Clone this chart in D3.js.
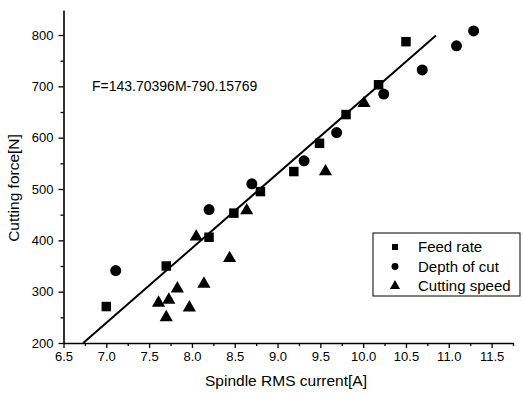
<!DOCTYPE html>
<html>
<head>
<meta charset="utf-8">
<script src="https://cdn.jsdelivr.net/npm/d3@7"></script>
<style>
  body { margin: 0; background: #fff; }
  svg text { font-family: "Liberation Sans", Arial, sans-serif; fill: #000; }
</style>
</head>
<body>
<div id="chart"></div>
<script>
// values
const feedX = [7.00, 7.70, 8.20, 8.49, 8.80, 9.19, 9.49, 9.80, 10.18, 10.50];
const feedY = [271, 350, 406, 453, 495, 534, 589, 645, 703, 787];

const depthX = [7.11, 8.20, 8.70, 9.31, 9.69, 10.24, 10.69, 11.09, 11.29];
const depthY = [341, 460, 510, 555, 610, 685, 732, 779, 808];

const speedX = [7.61, 7.73, 7.70, 7.83, 7.97, 8.14, 8.05, 8.44, 8.64, 9.56, 10.01];
const speedY = [278, 284, 250, 306, 269, 315, 407, 365, 458, 534, 667];

// fitted line as drawn (end points)
const fitX = [6.73, 10.85];
const fitY = [200, 799];

const xTicks = [6.5, 7.0, 7.5, 8.0, 8.5, 9.0, 9.5, 10.0, 10.5, 11.0, 11.5];
const xMinor = [6.75, 7.25, 7.75, 8.25, 8.75, 9.25, 9.75, 10.25, 10.75, 11.25, 11.75];
const yTicks = [200, 300, 400, 500, 600, 700, 800];
const yMinor = [250, 350, 450, 550, 650, 750];

const seriesNames = ['Feed rate', 'Depth of cut', 'Cutting speed'];
const equation = 'F=143.70396M-790.15769';

const W = 523, H = 393;
const svg = d3.select('#chart').append('svg')
  .attr('width', W).attr('height', H);

const x = d3.scaleLinear().domain([6.5, 11.75]).range([63.5, 513]);
const y = d3.scaleLinear().domain([200, 848.7]).range([343, 10]);

// minor ticks first
svg.append('g')
  .attr('transform', `translate(0,${y(200)})`)
  .call(d3.axisBottom(x).tickValues(xMinor).tickSize(3).tickFormat(''))
  .call(g => g.select('.domain').remove());
svg.append('g')
  .attr('transform', `translate(${x(6.5)},0)`)
  .call(d3.axisLeft(y).tickValues(yMinor).tickSize(3).tickFormat(''))
  .call(g => g.select('.domain').remove());

const xAxis = svg.append('g')
  .attr('transform', `translate(0,${y(200)})`)
  .call(d3.axisBottom(x).tickValues(xTicks).tickSize(5).tickSizeOuter(0).tickPadding(4)
    .tickFormat(d3.format('.1f')));
xAxis.selectAll('text').attr('font-size', 13);

const yAxis = svg.append('g')
  .attr('transform', `translate(${x(6.5)},0)`)
  .call(d3.axisLeft(y).tickValues(yTicks).tickSize(5).tickSizeOuter(0).tickPadding(5));
yAxis.selectAll('text').attr('font-size', 13);

svg.selectAll('.domain').attr('stroke-width', 1.6);
svg.selectAll('.tick line').attr('stroke-width', 1.3);

// axis titles
svg.append('text')
  .attr('x', 286).attr('y', 386)
  .attr('text-anchor', 'middle')
  .attr('font-size', 15.5)
  .text('Spindle RMS current[A]');

svg.append('text')
  .attr('transform', 'translate(19,188) rotate(-90)')
  .attr('text-anchor', 'middle')
  .attr('font-size', 15.5)
  .text('Cutting force[N]');

// regression line
svg.append('line')
  .attr('x1', x(fitX[0])).attr('y1', y(fitY[0]))
  .attr('x2', x(fitX[1])).attr('y2', y(fitY[1]))
  .attr('stroke', '#000').attr('stroke-width', 2);

svg.append('text')
  .attr('x', 92).attr('y', 91)
  .attr('font-size', 14)
  .text(equation);

// markers
const shapes = [d3.symbolSquare, d3.symbolCircle, d3.symbolTriangle];
const sizes = [90, 95, 75];
const series = [
  d3.zip(feedX, feedY),
  d3.zip(depthX, depthY),
  d3.zip(speedX, speedY)
];

series.forEach((pts, i) => {
  svg.append('g').selectAll('path')
    .data(pts)
    .enter().append('path')
    .attr('transform', d => `translate(${x(d[0])},${y(d[1])})`)
    .attr('d', d3.symbol().type(shapes[i]).size(sizes[i]))
    .attr('fill', '#000');
});

// legend
const legend = svg.append('g').attr('transform', 'translate(373,233)');
legend.append('rect')
  .attr('x', 0).attr('y', 0).attr('width', 147).attr('height', 63)
  .attr('fill', '#fff').attr('stroke', '#000').attr('stroke-width', 1);

const legendSizes = [36, 38, 45];
seriesNames.forEach((name, i) => {
  const row = legend.append('g').attr('transform', `translate(0,${14 + i * 19.5})`);
  row.append('path')
    .attr('transform', 'translate(22,0)')
    .attr('d', d3.symbol().type(shapes[i]).size(legendSizes[i]))
    .attr('fill', '#000');
  row.append('text')
    .attr('x', 45).attr('dy', '0.36em')
    .attr('font-size', 15)
    .text(name);
});
</script>
</body>
</html>
